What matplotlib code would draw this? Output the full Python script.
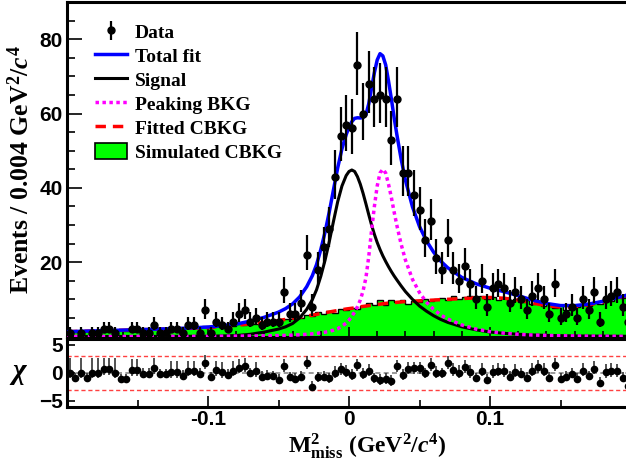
import numpy as np
import matplotlib
matplotlib.use("Agg")
import matplotlib.pyplot as plt
from matplotlib.patches import Patch
from matplotlib.ticker import MultipleLocator, FixedLocator

# ---------------- data ----------------
x_min, x_max = -0.2, 0.2
bin_width = 0.004

data_counts = [1, 0, 1, 0, 1, 1, 2, 2, 1, 0,
               0, 2, 2, 1, 1, 3, 1, 1, 2, 2,
               1, 3, 3, 1, 7, 1, 4, 3, 2, 4,
               6, 7, 4, 5, 3, 4, 4, 4, 12, 6,
               6, 9, 22, 8, 18, 24, 29, 43, 54, 57,
               56, 73, 60, 68, 64, 65, 64, 53, 64, 44,
               44, 38, 34, 26, 31, 21, 18, 26, 18, 15,
               19, 14, 10, 15, 8, 13, 14, 13, 9, 12,
               10, 7, 11, 13, 10, 6, 14, 5, 6, 8,
               5, 10, 7, 12, 4, 10, 11, 12, 8, 4]

chi_values = [0.0, -1.0, 0.0, -1.0, 0.0, 0.0, 0.6, 0.6, 0.0, -1.2,
              -1.2, 0.5, 0.5, -0.2, -0.2, 0.8, -0.3, -0.3, 0.1, 0.1,
              -0.5, 0.4, 0.4, -0.2, 1.7, -0.8, 0.5, 0.1, -0.4, 0.4,
              0.9, 1.2, -0.1, 0.3, -0.7, -0.5, -0.6, -1.3, 1.2, -0.8,
              -1.1, -0.7, 1.7, -2.5, -0.8, -0.7, -1.0, 0.0, 0.6, 0.2,
              -0.4, 1.4, -0.2, 0.4, -1.0, -1.3, -1.1, -1.4, 1.2, -0.4,
              0.7, 0.8, 0.8, -0.1, 1.4, 0.0, -0.1, 1.7, 0.5, 0.0,
              1.0, 0.1, -1.0, 0.4, -1.3, 0.1, 0.4, 0.3, -0.7, 0.2,
              -0.2, -0.9, 0.4, 1.0, 0.4, -0.9, 1.4, -1.1, -0.7, -0.2,
              -1.1, 0.4, -0.6, 0.7, -1.8, 0.1, 0.3, 0.3, -0.9, -2.4]

sim_cbkg = [1.0, 1.3, 1.2, 1.5, 1.4, 1.6, 1.3, 1.7, 1.5, 1.8,
            1.6, 1.9, 1.7, 2.0, 1.8, 2.2, 1.9, 2.1, 2.3, 2.0,
            2.4, 2.2, 2.6, 2.5, 2.8, 2.6, 3.0, 2.7, 3.1, 2.9,
            3.3, 3.1, 3.6, 3.4, 3.9, 3.7, 4.3, 4.0, 4.6, 4.8,
            5.4, 5.0, 5.9, 5.6, 6.6, 6.0, 6.9, 6.4, 7.5, 7.0,
            7.8, 7.3, 8.2, 8.9, 8.4, 9.8, 8.6, 9.9, 9.4, 9.7,
            8.8, 9.6, 9.2, 10.2, 9.5, 10.0, 10.4, 9.8, 10.8, 10.1,
            10.6, 11.0, 10.3, 10.9, 10.0, 10.6, 9.8, 10.4, 9.6, 10.2,
            9.2, 9.8, 8.7, 9.3, 8.2, 8.8, 7.6, 8.4, 7.2, 8.1,
            7.9, 8.6, 8.3, 9.2, 8.8, 10.0, 9.5, 10.8, 10.3, 11.5]

curve_x = [-0.200, -0.180, -0.160, -0.140, -0.120, -0.100, -0.090, -0.080, -0.070, -0.060,
           -0.050, -0.045, -0.040, -0.035, -0.030, -0.026, -0.023, -0.020, -0.017, -0.014,
           -0.011, -0.008, -0.005, -0.002, 0.000, 0.002, 0.004, 0.006, 0.008, 0.010,
           0.012, 0.014, 0.016, 0.018, 0.020, 0.022, 0.024, 0.026, 0.028, 0.030,
           0.032, 0.034, 0.037, 0.040, 0.045, 0.050, 0.055, 0.060, 0.065, 0.070,
           0.080, 0.090, 0.100, 0.110, 0.120, 0.130, 0.140, 0.150, 0.160, 0.170,
           0.180, 0.190, 0.200]

signal_y = [0.00, 0.01, 0.01, 0.02, 0.04, 0.08, 0.15, 0.25, 0.6, 1.2,
            2.0, 2.6, 3.5, 5.0, 7.3, 9.9, 12.6, 16.2, 20.5, 25.5,
            31.0, 36.3, 40.5, 43.3, 44.4, 44.8, 44.4, 43.0, 41.0, 38.5,
            35.7, 32.8, 30.0, 27.5, 25.3, 23.4, 21.7, 20.2, 18.8, 17.5,
            16.3, 15.2, 13.6, 12.1, 10.0, 8.2, 6.8, 5.6, 4.6, 3.8,
            2.6, 1.8, 1.2, 0.85, 0.6, 0.42, 0.3, 0.22, 0.16, 0.12,
            0.09, 0.07, 0.05]

peaking_y = [0.0, 0.0, 0.01, 0.02, 0.04, 0.06, 0.08, 0.1, 0.13, 0.18,
             0.25, 0.3, 0.37, 0.45, 0.6, 0.72, 0.82, 1.0, 1.15, 1.4,
             1.7, 2.1, 2.8, 3.6, 4.4, 5.4, 6.6, 8.0, 9.8, 12.3,
             15.8, 21.5, 28.5, 35.0, 40.5, 44.0, 45.0, 44.0, 41.0, 37.5,
             33.5, 29.8, 24.8, 20.6, 15.4, 11.8, 9.2, 7.3, 5.8, 4.7,
             3.1, 2.0, 1.3, 0.9, 0.6, 0.4, 0.3, 0.2, 0.15, 0.1,
             0.08, 0.06, 0.05]

cbkg_y = [1.3, 1.5, 1.7, 1.9, 2.1, 2.4, 2.7, 3.0, 3.4, 3.8,
          4.3, 4.6, 4.9, 5.2, 5.5, 5.75, 5.95, 6.2, 6.4, 6.6,
          6.8, 7.0, 7.2, 7.4, 7.5, 7.6, 7.7, 7.85, 8.0, 8.1,
          8.2, 8.3, 8.4, 8.5, 8.6, 8.7, 8.8, 8.9, 9.0, 9.05,
          9.1, 9.2, 9.3, 9.4, 9.5, 9.6, 9.7, 9.8, 9.9, 10.0,
          10.2, 10.4, 10.5, 10.3, 9.8, 9.0, 8.3, 7.9, 8.0, 8.5,
          9.3, 10.3, 11.3]

legend_labels = ["Data", "Total fit", "Signal", "Peaking BKG", "Fitted CBKG", "Simulated CBKG"]

# ---------------- style ----------------
plt.rcParams["font.family"] = ["Liberation Sans", "DejaVu Sans"]
plt.rcParams["font.weight"] = "bold"
plt.rcParams["mathtext.fontset"] = "custom"
plt.rcParams["mathtext.rm"] = "Liberation Serif:bold"
plt.rcParams["mathtext.bf"] = "Liberation Serif:bold"
plt.rcParams["mathtext.it"] = "Liberation Serif:italic"
SERIF = "Liberation Serif"

W, H = 626, 468
fig = plt.figure(figsize=(W / 100, H / 100), dpi=100)


def frame(l, t, r, b):
    return [l / W, 1 - b / H, (r - l) / W, (b - t) / H]


ax = fig.add_axes(frame(67, 2, 631, 336.5))
axr = fig.add_axes(frame(67, 338.5, 631, 407))

edges = x_min + bin_width * np.arange(len(data_counts) + 1)
centers = 0.5 * (edges[:-1] + edges[1:])
counts = np.array(data_counts, dtype=float)
cx = np.array(curve_x)
sig = np.array(signal_y)
pk = np.array(peaking_y)
cb = np.array(cbkg_y)
total = sig + pk + cb

# simulated CBKG histogram
ax.stairs(sim_cbkg, edges, fill=True, color="#00ff00", zorder=1)
ax.stairs(sim_cbkg, edges, color="black", lw=1.0, zorder=1.5)

ax.plot(cx, cb, color="#ff0000", lw=2.5, ls=(0, (3, 2)), zorder=2)
ax.plot(cx, sig, color="black", lw=2.2, zorder=3)
ax.plot(cx, pk, color="#ff00ff", lw=2.5, ls=(0, (1, 1)), zorder=3)
ax.plot(cx, total, color="#0000ff", lw=2.5, zorder=4)

# data with Poisson-like asymmetric errors
s = np.sqrt(counts + 0.25)
err_hi = s + 0.5
err_lo = s - 0.5
mask = counts > 0
eb = ax.errorbar(centers[mask], counts[mask], yerr=[err_lo[mask], err_hi[mask]],
                 fmt="o", color="black", ms=5, elinewidth=1.6, capsize=0, zorder=5)

ax.set_xlim(x_min, x_max)
ax.set_ylim(0, 90)
ax.xaxis.set_major_locator(MultipleLocator(0.1))
ax.xaxis.set_minor_locator(MultipleLocator(0.02))
ax.yaxis.set_major_locator(MultipleLocator(20))
ax.yaxis.set_minor_locator(MultipleLocator(5))
ax.yaxis.set_major_formatter(plt.FuncFormatter(lambda v, p: "" if v == 0 else f"{v:.0f}"))
ax.tick_params(axis="both", which="both", direction="in", top=False, right=False, width=1.2)
ax.tick_params(axis="y", which="major", length=11, labelsize=15, pad=3)
ax.tick_params(axis="y", which="minor", length=5.5)
ax.tick_params(axis="x", which="major", length=7, labelbottom=False)
ax.tick_params(axis="x", which="minor", length=4)
for sp in ax.spines.values():
    sp.set_linewidth(2.2)

# legend
green_patch = Patch(facecolor="#00ff00", edgecolor="black", lw=1.2)
handles = [eb,
           plt.Line2D([], [], color="#0000ff", lw=2.5),
           plt.Line2D([], [], color="black", lw=2.2),
           plt.Line2D([], [], color="#ff00ff", lw=2.5, ls=(0, (1, 1))),
           plt.Line2D([], [], color="#ff0000", lw=2.5, ls=(0, (3, 2))),
           green_patch]
leg = ax.legend(handles, legend_labels, loc="upper left", bbox_to_anchor=(95 / W, 1 - 23 / H),
                bbox_transform=fig.transFigure, frameon=False,
                prop=dict(family=SERIF, weight="bold", size=14),
                handlelength=1.65, handleheight=0.9, handletextpad=0.4, labelspacing=0.27,
                borderaxespad=0, borderpad=0)

# residual panel
chi = np.array(chi_values)
with np.errstate(divide="ignore", invalid="ignore"):
    up = np.where(chi >= 0, err_hi / np.where(err_lo > 0, err_lo, np.nan), 1.0)
    lo = np.where(chi >= 0, 1.0, err_lo / err_hi)
up = np.nan_to_num(up, nan=1.0)
axr.axhline(0, color="#888888", lw=1.2, ls=(0, (3, 2)), zorder=1)
axr.axhline(3, color="#ff4040", lw=1.0, ls=(0, (3, 2)), zorder=1)
axr.axhline(-3, color="#ff4040", lw=1.0, ls=(0, (3, 2)), zorder=1)
axr.errorbar(centers, chi, yerr=[lo, up], fmt="o", color="black", ecolor="#333333",
             ms=4.5, elinewidth=1.2, capsize=0, zorder=3)
axr.set_xlim(x_min, x_max)
axr.set_ylim(-6.1, 6.1)
axr.yaxis.set_major_locator(FixedLocator([-5, 0, 5]))
axr.xaxis.set_major_locator(FixedLocator([-0.1, 0.0, 0.1]))
axr.xaxis.set_minor_locator(MultipleLocator(0.05))
axr.xaxis.set_major_formatter(plt.FuncFormatter(lambda v, p: "0" if abs(v) < 1e-9 else f"{v:.1f}"))
axr.tick_params(axis="both", which="both", direction="in", top=False, right=False, width=1.2)
axr.tick_params(axis="x", which="major", length=8, labelsize=15, pad=2.5)
axr.tick_params(axis="x", which="minor", length=5)
axr.tick_params(axis="y", which="major", length=6, labelsize=15, pad=3)
for sp in axr.spines.values():
    sp.set_linewidth(2.2)

# axis titles
fig.text(21 / W, 1 - 170 / H, r"Events / 0.004 GeV$^{2}$/$\mathit{c}^{4}$", rotation=90,
         ha="center", va="center", family=SERIF, weight="bold", fontsize=18.5)
fig.text(19 / W, 1 - 373 / H, r"$\mathit{\chi}$", ha="center", va="center", fontsize=21)
fig.text(367 / W, 1 - 446 / H,
         r"$\mathbf{M}^{\mathbf{2}}_{\mathbf{miss}}$ (GeV$^{\mathbf{2}}$/$\mathit{c}^{\mathbf{4}}$)",
         ha="center", va="center", family=SERIF, weight="bold", fontsize=17)

fig.savefig("out.png", dpi=100)
